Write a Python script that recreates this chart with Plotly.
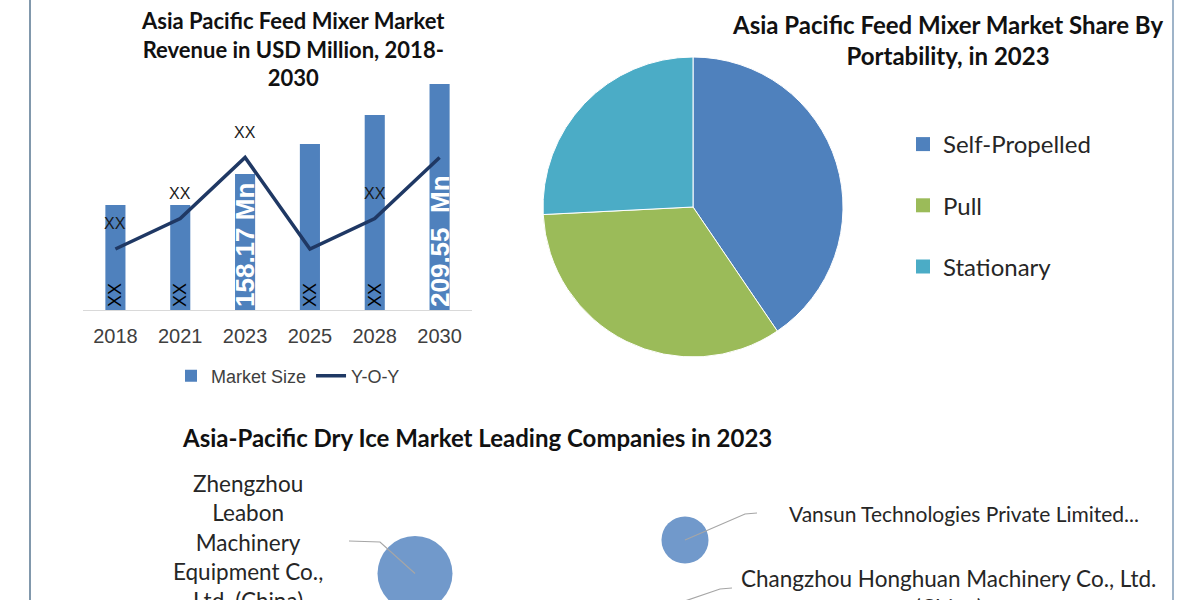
import plotly.graph_objects as go

# ---------------- data ----------------
years = ["2018", "2021", "2023", "2025", "2028", "2030"]
market_size = [140.5, 140.5, 158.17, 175.3, 191.8, 209.55]
bar_labels = ["XX", "XX", "158.17 Mn", "XX", "XX", "209.55  Mn"]
yoy = [2, 3, 5, 2, 3, 5]
yoy_labels = ["XX", "XX", "XX", "", "XX", ""]

portability = ["Self-Propelled", "Pull", "Stationary"]
portability_share = [40.5, 33.7, 25.8]

companies = [
    "Zhengzhou<br>Leabon<br>Machinery<br>Equipment Co.,<br>Ltd. (China)",
    "Vansun Technologies Private Limited...",
    "Changzhou Honghuan Machinery Co., Ltd.<br>(China)",
]
company_x = [4.15, 6.85, 6.0]
company_y = [0.265, 0.60, -0.30]
company_size = [12.7, 5.0, 6.0]

# ---------------- styling / layout helpers ----------------
W, H = 1200, 600
def fx(p):
    return p / W
def fy(p):
    return 1 - p / H

BLUE = "#4f81bd"
GREEN = "#9bbb59"
TEAL = "#4bacc6"
NAVY = "#1f3864"
BUBBLE = "#7199cb"
TITLE_FONT = "Lato, Open Sans, sans-serif"
ARIAL = "Liberation Sans, Arial, sans-serif"
NARROW = "Liberation Sans Narrow, Arial Narrow, Liberation Sans, sans-serif"

axis_min = 80.5            # truncated value axis, as in the reference
axis_max = 211.8
yoy_max = 7.54

fig = go.Figure()

# ---- bar + line chart ----
bar_colors = ["white" if "Mn" in t else "black" for t in bar_labels]
bar_sizes = [26 if "Mn" in t else 18 for t in bar_labels]
bar_weights = ["bold" if "Mn" in t else "normal" for t in bar_labels]
fig.add_trace(go.Bar(
    x=years, y=[v - axis_min for v in market_size], base=axis_min,
    customdata=market_size, hovertemplate="%{x}: %{customdata}<extra></extra>",
    name="Market Size", marker=dict(color=BLUE, line=dict(width=0)),
    text=bar_labels, textposition="inside", insidetextanchor="start",
    textangle=-90, constraintext="none",
    textfont=dict(family=NARROW, color=bar_colors, size=bar_sizes, weight=bar_weights),
    xaxis="x", yaxis="y", legend="legend",
))
fig.add_trace(go.Scatter(
    x=years, y=yoy, mode="lines", name="Y-O-Y",
    line=dict(color=NAVY, width=3.5),
    xaxis="x", yaxis="y2", legend="legend",
))
annotations = []
for i, (v, t) in enumerate(zip(yoy, yoy_labels)):
    if t:
        annotations.append(dict(x=i, y=v, xref="x", yref="y2", text=t, showarrow=False,
                                yshift=25, font=dict(family=ARIAL, size=16, color="#1a1a1a")))

# ---- pie ----
fig.add_trace(go.Pie(
    labels=portability, values=portability_share, sort=False,
    direction="clockwise", rotation=0, textinfo="none",
    marker=dict(colors=[BLUE, GREEN, TEAL], line=dict(color="white", width=1)),
    domain=dict(x=[fx(543), fx(843)], y=[fy(357), fy(57)]),
    showlegend=False,
))
for lab, col in zip(portability, [BLUE, GREEN, TEAL]):
    fig.add_trace(go.Scatter(
        x=[None], y=[None], mode="markers", name=lab, legendgroup=lab,
        marker=dict(symbol="square", size=14, color=col),
        xaxis="x3", yaxis="y3", legend="legend2", hoverinfo="skip",
    ))

# ---- bubble chart ----
label_pos = [(2.48, 0.58, "center", 22.5), (7.87, 0.87, "left", 21),
             (9.48, 0.075, "center", 22.5)]
leader_pts = [[(3.80, 0.58), (3.49, 0.59)],
              [(7.45, 0.86), (7.57, 0.87)],
              [(7.20, 0.11), (7.32, 0.12)]]
lx, ly = [], []
for cx, cy, pts in zip(company_x, company_y, leader_pts):
    lx += [cx] + [p[0] for p in pts] + [None]
    ly += [cy] + [p[1] for p in pts] + [None]

fig.add_trace(go.Scatter(
    x=company_x, y=company_y, mode="markers", text=companies,
    marker=dict(size=company_size, sizemode="area",
                sizeref=2 * max(company_size) / (75 ** 2),
                color=BUBBLE, opacity=1, line=dict(width=0)),
    hovertemplate="%{text}<extra></extra>",
    xaxis="x3", yaxis="y3", showlegend=False, cliponaxis=True,
))
fig.add_trace(go.Scatter(
    x=lx, y=ly, mode="lines", line=dict(color="#a6a6a6", width=1.2),
    xaxis="x3", yaxis="y3", showlegend=False, hoverinfo="skip", cliponaxis=True,
))
for name, (px_, py_, anc, fs) in zip(companies, label_pos):
    annotations.append(dict(x=px_, y=py_, xref="x3", yref="y3", text=name, showarrow=False,
                            xanchor=anc, yanchor="middle", align="center",
                            font=dict(family=TITLE_FONT, size=fs, color="#262626")))

# ---- titles ----
annotations += [
    dict(x=fx(293), y=fy(49), xref="paper", yref="paper", showarrow=False,
         text="<b>Asia Pacific Feed Mixer Market<br>Revenue in USD Million, 2018-<br>2030</b>",
         font=dict(family=TITLE_FONT, size=22, color="#111111"), align="center",
         xanchor="center", yanchor="middle"),
    dict(x=fx(947), y=fy(40), xref="paper", yref="paper", showarrow=False,
         text="<b>Asia Pacific Feed Mixer Market Share By<br>Portability, in 2023</b>",
         font=dict(family=TITLE_FONT, size=24, color="#111111"), align="center",
         xanchor="center", yanchor="middle"),
    dict(x=fx(477), y=fy(437), xref="paper", yref="paper", showarrow=False,
         text="<b>Asia-Pacific Dry Ice Market Leading Companies in 2023</b>",
         font=dict(family=TITLE_FONT, size=24, color="#111111"),
         xanchor="center", yanchor="middle"),
]

shapes = [
    dict(type="line", xref="paper", yref="paper", x0=fx(30), x1=fx(30), y0=0, y1=1,
         line=dict(color="#8198ac", width=2)),
    dict(type="line", xref="paper", yref="paper", x0=fx(1173), x1=fx(1173), y0=0, y1=1,
         line=dict(color="#9fb4c9", width=2)),
]

fig.update_layout(
    width=W, height=H, margin=dict(l=0, r=0, t=0, b=0),
    paper_bgcolor="white", plot_bgcolor="rgba(0,0,0,0)",
    bargap=0.69, showlegend=True,
    xaxis=dict(domain=[fx(83), fx(472)], type="category", categoryorder="array",
               categoryarray=years, range=[-0.5, len(years) - 0.5], showline=True,
               linecolor="#d9d9d9", linewidth=1, ticks="", showgrid=False, zeroline=False,
               tickfont=dict(family=ARIAL, size=20, color="#404040"), ticklabelstandoff=8,
               anchor="y"),
    yaxis=dict(domain=[fy(310), fy(80)], range=[axis_min, axis_max], visible=False,
               anchor="x"),
    yaxis2=dict(overlaying="y", range=[0, yoy_max], visible=False, anchor="x"),
    xaxis3=dict(domain=[0, 1], range=[0, 12], visible=False, anchor="y3"),
    yaxis3=dict(domain=[0, fy(455)], range=[0, 1.45], visible=False, anchor="x3"),
    legend=dict(orientation="h", x=fx(288), xanchor="center", y=fy(376), yanchor="middle",
                font=dict(family=ARIAL, size=18, color="#404040"), bgcolor="rgba(0,0,0,0)"),
    legend2=dict(orientation="v", x=fx(903), xanchor="left", y=fy(122), yanchor="top",
                 font=dict(family=TITLE_FONT, size=24, color="#262626"),
                 tracegroupgap=27, itemsizing="trace", bgcolor="rgba(0,0,0,0)"),
    annotations=annotations, shapes=shapes,
)

fig.write_html("out.html")
